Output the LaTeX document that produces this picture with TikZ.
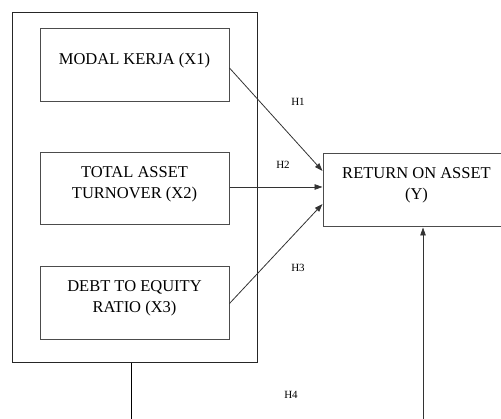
\documentclass[tikz,border=0pt]{standalone}
\usepackage{fontspec}
\setmainfont{Liberation Serif}
\newfontfamily\tnr{Liberation Serif}
\usetikzlibrary{arrows.meta}
\begin{document}
\begin{tikzpicture}[x=1pt,y=-1pt,
  box/.style={draw=black!70,line width=1pt,rectangle,minimum width=189pt,minimum height=73pt,inner sep=0pt},
  txt/.style={align=center,font=\tnr\fontsize{16.5}{21}\selectfont,inner sep=0pt},
  hl/.style={font=\tnr\fontsize{11}{13}\selectfont,inner sep=0pt},
  arr/.style={draw=black!80,line width=0.8pt,-{Triangle[length=8pt,width=5.5pt]}},
  ln/.style={draw=black,line width=0.9pt}]
\useasboundingbox (0,0) rectangle (501,419);
\clip (0,0) rectangle (501,419);
\node[draw=black!85,line width=1pt,rectangle,minimum width=245pt,minimum height=350pt,inner sep=0pt] (outer) at (134.5,188) {};
\node[box] (x1) at (134.5,65.5) {};
\node[box,minimum height=72pt] (x2) at (134.5,189) {};
\node[box] (x3) at (134.5,303.5) {};
\node[txt] (t1) at ([yshift=4.5pt]x1.center) {MODAL KERJA (X1)};
\node[txt] (t2) at ([yshift=4.5pt]x2.center) {TOTAL ASSET\\TURNOVER (X2)};
\node[txt] (t3) at ([yshift=5pt]x3.center) {DEBT TO EQUITY\\RATIO (X3)};
\node[box,minimum width=187pt] (roa) at (416.5,190.5) {};
\node[txt] (ty) at ([yshift=5pt]roa.center) {RETURN ON ASSET\\(Y)};
\node[hl] (h1) at (298,102) {H1};
\node[hl] (h2) at (283,165) {H2};
\node[hl] (h3) at (298,268) {H3};
\node[hl] (h4) at (291,395) {H4};
\coordinate (b1) at (131,419);
\coordinate (b2) at (423,419);
\draw[arr] ([yshift=-2.5pt]x1.east) -- ([yshift=19.5pt]roa.west);
\draw[arr] ([yshift=2pt]x2.east) -- ([yshift=3.5pt]roa.west);
\draw[arr] (x3.east) -- ([yshift=-13.5pt]roa.west);
\draw[ln] (b1 |- outer.south) -- (b1);
\draw[arr] (b2) -- (b2 |- roa.south);
\end{tikzpicture}
\end{document}
